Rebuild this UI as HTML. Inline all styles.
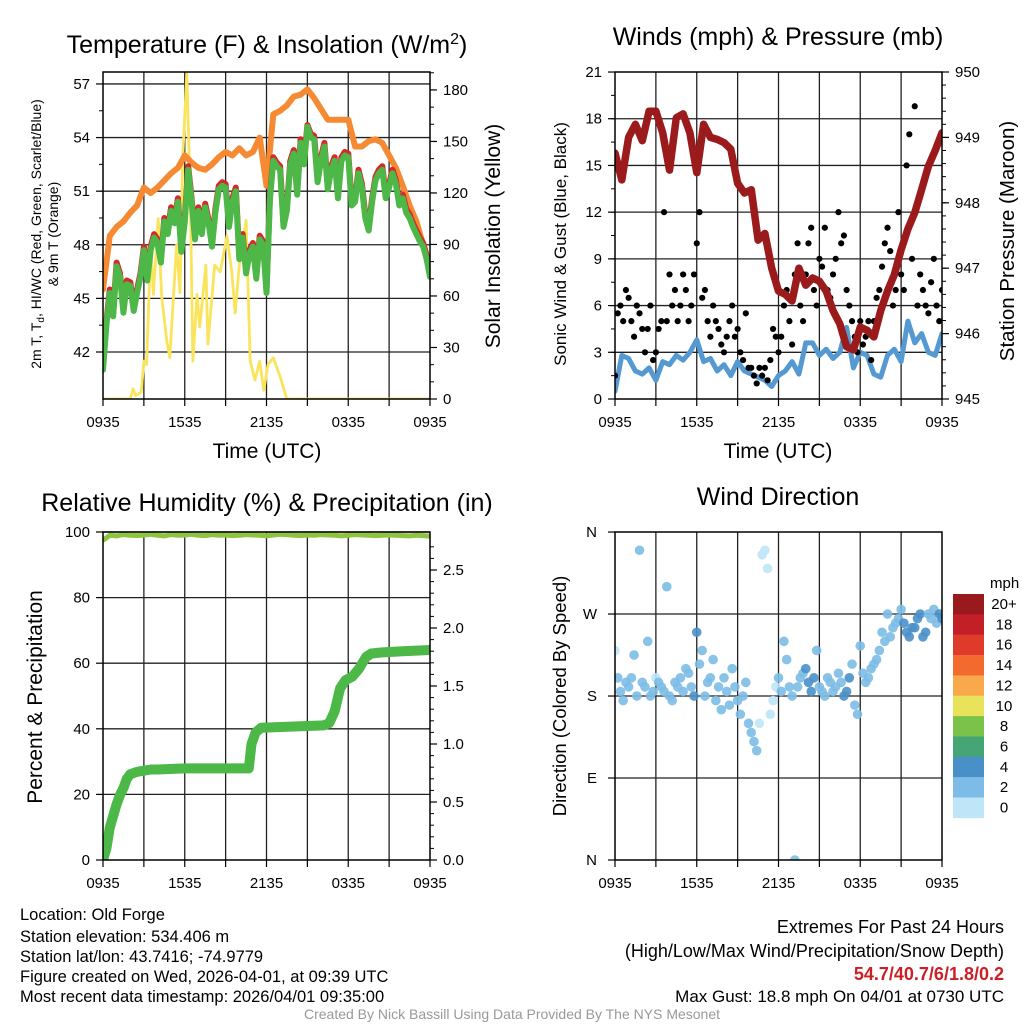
<!DOCTYPE html>
<html><head><meta charset="utf-8"><title>Mesonet Meteogram</title>
<style>
html,body{margin:0;padding:0;background:#fff;}
svg{display:block;font-family:"Liberation Sans",Arial,sans-serif;}
</style></head>
<body>
<svg id="fig" width="1024" height="1024" viewBox="0 0 1024 1024" xmlns="http://www.w3.org/2000/svg">
<rect x="0" y="0" width="1024" height="1024" fill="#fff"/>
<defs>
<clipPath id="c1"><rect x="103" y="72" width="327" height="327"/></clipPath>
<clipPath id="c2"><rect x="615" y="72" width="327" height="327"/></clipPath>
<clipPath id="c3"><rect x="103" y="532" width="327" height="328"/></clipPath>
<clipPath id="c4"><rect x="615" y="532" width="327" height="328"/></clipPath>
</defs>
<!-- titles -->
<text x="267" y="53" font-size="25" text-anchor="middle">Temperature (F) &amp; Insolation (W/m<tspan dy="-9" font-size="16">2</tspan><tspan dy="9">)</tspan></text>
<text x="778" y="45" font-size="25" text-anchor="middle">Winds (mph) &amp; Pressure (mb)</text>
<text x="267" y="511" font-size="25" text-anchor="middle">Relative Humidity (%) &amp; Precipitation (in)</text>
<text x="778" y="505" font-size="25" text-anchor="middle">Wind Direction</text>
<!-- axis titles -->
<text x="267" y="458" font-size="21" text-anchor="middle">Time (UTC)</text>
<text x="778" y="458" font-size="21" text-anchor="middle">Time (UTC)</text>
<text transform="translate(41,234) rotate(-90)" font-size="14" text-anchor="middle">2m T, T<tspan font-size="10" dy="3">d</tspan><tspan dy="-3">, HI/WC (Red, Green, Scarlet/Blue)</tspan></text>
<text transform="translate(58,234) rotate(-90)" font-size="14" text-anchor="middle">&amp; 9m T (Orange)</text>
<text transform="translate(500,236) rotate(-90)" font-size="21" text-anchor="middle">Solar Insolation (Yellow)</text>
<text transform="translate(566,244) rotate(-90)" font-size="17" text-anchor="middle">Sonic Wind &amp; Gust (Blue, Black)</text>
<text transform="translate(1014,241) rotate(-90)" font-size="20.5" text-anchor="middle">Station Pressure (Maroon)</text>
<text transform="translate(42,697) rotate(-90)" font-size="21" text-anchor="middle">Percent &amp; Precipitation</text>
<text transform="translate(566,696) rotate(-90)" font-size="18.5" text-anchor="middle">Direction (Colored By Speed)</text>
<!-- footer -->
<g font-size="16.5">
<text x="20" y="920">Location: Old Forge</text>
<text x="20" y="942">Station elevation: 534.406 m</text>
<text x="20" y="962">Station lat/lon: 43.7416; -74.9779</text>
<text x="20" y="982">Figure created on Wed, 2026-04-01, at 09:39 UTC</text>
<text x="20" y="1002">Most recent data timestamp: 2026/04/01 09:35:00</text>
</g>
<g font-size="18" text-anchor="end">
<text x="1004" y="933">Extremes For Past 24 Hours</text>
<text x="1004" y="957">(High/Low/Max Wind/Precipitation/Snow Depth)</text>
<text x="1004" y="980" fill="#cc1f26" font-weight="bold">54.7/40.7/6/1.8/0.2</text>
<text x="1004" y="1002" font-size="17">Max Gust: 18.8 mph On 04/01 at 0730 UTC</text>
</g>
<text x="512" y="1019" font-size="14" fill="#999" text-anchor="middle">Created By Nick Bassill Using Data Provided By The NYS Mesonet</text>
<g id="layer"></g>
</svg>
<script>
// ---------- data ----------
const xTickLabels = ["0935","1535","2135","0335","0935"];
const tempLeftTicks = [42,45,48,51,54,57];
const insolTicks = [0,30,60,90,120,150,180];
const windTicks = [0,3,6,9,12,15,18,21];
const presTicks = [945,946,947,948,949,950];
const rhTicks = [0,20,40,60,80,100];
const precipTicks = [0.0,0.5,1.0,1.5,2.0,2.5];
const dirTickLabels = ["N","E","S","W","N"];
const dirTickValues = [0,90,180,270,360];
const speedLabels = ["20+","18","16","14","12","10","8","6","4","2","0"];
const speedColors = ["#99191c","#c21f26","#e03a2b","#f26a2e","#f9a94b","#e8e35a","#7bc24a","#46a574","#4a90c8","#7cbce6","#bfe6f8"];

const dewGreen = [41.0,43.5,45.3,44.0,46.8,46.2,44.2,45.8,45.7,44.3,45.3,46.2,47.7,46.0,47.7,48.4,48.1,47.0,49.3,48.6,49.9,49.2,50.4,47.6,49.3,52.2,50.4,48.3,49.9,48.6,50.1,49.2,47.9,49.8,51.1,51.3,51.2,49.0,50.4,51.0,47.2,48.4,46.4,47.5,47.9,46.1,48.3,48.0,45.3,50.5,52.7,52.4,52.2,49.0,49.9,52.5,53.1,50.8,53.7,52.5,54.6,54.0,53.9,51.5,52.7,53.5,51.1,52.2,52.7,50.6,52.7,53.0,52.9,50.2,50.4,52.0,51.2,49.5,48.8,50.4,51.6,52.0,52.2,50.6,51.2,52.0,51.4,50.2,50.6,49.8,49.5,49.0,48.6,48.2,47.9,47.2,46.2];
const temp2mRed = [41.2,43.7,45.5,44.2,47.0,46.4,44.4,46.0,45.9,44.5,45.5,46.4,47.9,46.2,47.9,48.6,48.3,47.2,49.5,48.8,50.1,49.4,50.6,47.8,49.5,52.4,50.6,48.5,50.1,48.8,50.3,49.4,48.1,50.0,51.3,51.5,51.4,49.2,50.6,51.2,47.4,48.6,46.6,47.7,48.1,46.3,48.5,48.2,45.5,50.7,52.9,52.6,52.4,49.2,50.1,52.7,53.3,51.0,53.9,52.7,54.7,54.2,54.1,51.7,52.9,53.7,51.3,52.4,52.9,50.8,52.9,53.2,53.1,50.4,50.6,52.2,51.4,49.7,49.0,50.6,51.8,52.2,52.4,50.8,51.4,52.2,51.6,50.4,50.8,50.0,49.7,49.2,48.8,48.4,48.1,47.4,46.4];
const temp9mOrange = [45.5,48.5,49.0,49.3,49.8,50.2,51.2,50.9,51.2,51.6,52.0,52.3,53.0,52.6,52.3,52.2,52.5,52.9,53.2,53.0,53.4,53.0,53.2,54.0,51.3,55.3,55.5,55.8,56.3,56.4,56.7,56.2,55.6,55.0,55.0,55.0,55.0,53.5,53.5,53.8,53.9,53.7,53.0,52.3,51.3,50.2,49.3,48.0,46.8];
const insolHours = [0,2.0,2.2,2.4,2.8,3.0,3.2,3.5,3.7,4.05,4.3,4.7,4.9,5.4,5.65,5.85,6.15,6.4,6.6,6.9,7.1,7.55,7.7,8.2,8.6,9.1,9.45,9.7,10.0,10.5,10.8,11.15,11.5,11.8,12.1,12.5,13.0,13.5,24];
const insolValues = [0,0,6,2,4,22,20,90,61,105,60,33,24,90,62,140,190,120,22,61,42,78,32,78,74,95,74,50,78,104,22,11,22,5,20,24,13,0,0];

const pressure = [948.76,948.35,949.0,949.2,948.95,949.4,949.4,949.07,948.5,949.3,949.36,949.07,948.46,949.2,949.0,948.97,948.92,948.82,948.3,948.15,948.2,947.43,947.53,947.0,946.65,946.6,946.5,947.0,946.74,946.85,946.8,946.65,946.35,946.15,945.8,945.75,946.1,946.05,945.95,946.35,946.65,946.9,947.28,947.6,947.85,948.2,948.56,948.8,949.07];
const windSpeed = [0.5,2.8,2.6,1.8,1.6,2.0,1.2,2.4,2.2,2.8,2.5,3.0,3.8,2.4,2.6,1.8,2.2,1.5,2.4,1.8,1.6,1.4,1.2,0.8,1.5,1.8,2.4,1.6,3.6,3.6,2.8,3.2,2.6,3.0,4.6,2.0,3.0,2.8,1.6,1.4,2.8,3.2,2.4,5.0,3.6,4.2,3.0,2.8,4.2];
const windGust = [1.5,5.5,6,5,7,6.5,5,4,6,5.5, 4.5,3,4.5,6,2.5,3,4.5,5,12,5, 8,6,7,5,6,8,7,5,6,8, 10,12,6.5,7,5,4,6,5,4.5,3.5, 3,4,5,6,4,4.5,3,2.5,5.5,2, 2,1.5,1,2,1.5,2,1.2,2.5,4.5,4, 3,4,6,7,5,3.5,8,10,6,5, 8,10,11,7,6,9,8.5,11,7,6.5, 8,9,12,10,10.5,7,6,5,4,3, 5,3.5,4,5,2.5,5,6.5,7,8.5,10, 11,9.5,6,7,12,8,7,15,17,9, 18.8,6,8,7,6,5.5,7.5,9,6,5,7];

const relHum = [97.5,99.0,98.8,99.2,99.0,98.9,99.1,99.3,99.0,98.8,99.2,99.0,99.1,99.3,99.0,98.9,99.2,99.0,99.1,98.9,99.0,99.2,99.1,99.0,98.8,99.1,99.3,99.2,99.0,98.9,99.1,99.0,99.2,99.1,99.0,98.8,99.0,99.2,99.1,99.0,98.9,99.0,99.1,99.0,98.9,98.8,99.0,98.9,98.7];
const precipHours = [0,0.25,0.5,0.75,1,1.25,1.5,1.75,2,2.5,3,3.5,4,6,9,10.7,10.9,11.2,11.6,16.2,16.6,17,17.4,17.8,18.3,18.8,19.3,19.7,20.5,22,24];
const precipValues = [0,0.1,0.28,0.38,0.48,0.56,0.62,0.7,0.74,0.76,0.77,0.78,0.78,0.79,0.79,0.79,1.0,1.1,1.14,1.16,1.18,1.28,1.48,1.55,1.58,1.65,1.75,1.78,1.79,1.8,1.81];

const windDir = [230,200,185,175,195,190,200,225,180,340, 195,190,240,180,185,200,195,190,185,300, 180,175,195,190,200,185,210,205,190,180, 250,215,230,180,195,200,220,175,190,165, 200,185,170,210,190,175,160,180,195,150, 140,130,120,150,335,340,320,160,175,190, 200,185,240,220,190,180,0,190,200,205, 210,195,185,200,230,190,185,180,200,195, 185,190,205,195,180,185,200,215,170,160, 235,205,195,200,210,215,220,230,250,240, 270,245,255,260,265,275,260,250,245,255, 255,265,270,245,250,270,265,275,260,270,265];

// ---------- scales ----------
const NS="http://www.w3.org/2000/svg";
const layer=document.getElementById('layer');
function mk(tag,attrs,parent){const e=document.createElementNS(NS,tag);for(const k in attrs)e.setAttribute(k,attrs[k]);(parent||layer).appendChild(e);return e;}
function xL(t){return 103+t/24*327;}
function xR(t){return 615+t/24*327;}
function yTemp(v){return 352-(v-42)*17.87;}
function yIns(v){return 399-v*1.717;}
function yWind(v){return 399-v*15.57;}
function yPres(v){return 399-(v-945)*65.4;}
function yRH(v){return 860-v*3.28;}
function yPrec(v){return 860-v*116;}
function yDir(d){return 860-d*0.911;}
function hrs(n,i){return i*24/(n-1);}
function interp(arr,t){const f=t/24*(arr.length-1);const i=Math.min(Math.floor(f),arr.length-2);const r=f-i;return arr[i]*(1-r)+arr[i+1]*r;}

function pathFrom(ts,vs,xf,yf){let d='';for(let i=0;i<vs.length;i++){d+=(i?'L':'M')+xf(ts[i]).toFixed(1)+','+yf(vs[i]).toFixed(1);}return d;}
function evenTimes(n){const a=[];for(let i=0;i<n;i++)a.push(hrs(n,i));return a;}

// ---------- generic panel frame ----------
function frame(x0,y0,w,h,name){
  const g=mk('g',{});
  
  
  for(let k=1;k<8;k++){
    const x=x0+k*w/8;
    const l=mk('line',{x1:x,y1:y0,x2:x,y2:y0+h,stroke:'#222','stroke-width':1.3},g);
    
    
  }
  for(let k=0;k<=8;k++){
    const x=x0+k*w/8;
    const tk=mk('line',{x1:x,y1:y0+h,x2:x,y2:y0+h+7,stroke:'#000','stroke-width':1.2},g);
    
    
    if(k%2===0){
      const tx=mk('text',{x:x,y:y0+h+28,'font-size':15,'text-anchor':'middle'},g);
      tx.textContent=xTickLabels[k/2];
      
      
    }
  }
  return g;
}
function hgrid(g,ys,x0,w,name){
  ys.forEach(y=>{
    const l=mk('line',{x1:x0,y1:y,x2:x0+w,y2:y,stroke:'#222','stroke-width':1.3},g);
    
    
  });
}
function leftAxis(g,vals,yf,x0,fmt,name,minorStep){
  vals.forEach(v=>{
    const y=yf(v);
    const tk=mk('line',{x1:x0-7,y1:y,x2:x0,y2:y,stroke:'#000','stroke-width':1.2},g);
    
    
    const tx=mk('text',{x:x0-13,y:y+5,'font-size':15,'text-anchor':'end'},g);
    tx.textContent=fmt(v);
    
    
  });
  if(minorStep){
    for(let v=vals[0]+minorStep;v<vals[vals.length-1];v+=minorStep){
      const y=yf(v);
      const tk=mk('line',{x1:x0-4,y1:y,x2:x0,y2:y,stroke:'#000','stroke-width':1},g);
      
      
    }
  }
}
function rightAxis(g,vals,yf,x1,fmt,name,minorStep,lo,hi){
  vals.forEach(v=>{
    const y=yf(v);
    const tk=mk('line',{x1:x1,y1:y,x2:x1+7,y2:y,stroke:'#000','stroke-width':1.2},g);
    
    
    const tx=mk('text',{x:x1+13,y:y+5,'font-size':15,'text-anchor':'start'},g);
    tx.textContent=fmt(v);
    
    
  });
  if(minorStep){
    for(let v=lo;v<=hi+1e-9;v+=minorStep){
      const y=yf(v);
      const tk=mk('line',{x1:x1,y1:y,x2:x1+4,y2:y,stroke:'#000','stroke-width':1},g);
      
      
    }
  }
}
function border(g,x0,y0,w,h,name){
  const r=mk('rect',{x:x0,y:y0,width:w,height:h,fill:'none',stroke:'#000','stroke-width':1.5},g);
  
  
}
function line(g,d,color,width,clip,name){
  const p=mk('path',{d:d,fill:'none',stroke:color,'stroke-width':width,'stroke-linejoin':'round','stroke-linecap':'round','clip-path':'url(#'+clip+')'},g);
  
  
  return p;
}

// ---------- panel 1: temperature ----------
const g1=frame(103,72,327,327,'temp');
hgrid(g1,tempLeftTicks.map(yTemp),103,327,'temp');
leftAxis(g1,tempLeftTicks,yTemp,103,v=>String(v),'temp-y',1.5);
rightAxis(g1,insolTicks,yIns,430,v=>String(v),'insolation-y',10,0,190);
line(g1,pathFrom(insolHours,insolValues,xL,yIns),'#f9e45b',2.8,'c1','insolation-line-yellow');
line(g1,pathFrom(evenTimes(temp9mOrange.length),temp9mOrange,xL,yTemp),'#f58a33',6,'c1','temp-9m-line-orange');
line(g1,pathFrom(evenTimes(temp2mRed.length),temp2mRed,xL,yTemp),'#d62a2a',6,'c1','temp-2m-line-red');
line(g1,pathFrom(evenTimes(dewGreen.length),dewGreen,xL,yTemp),'#4db748',6,'c1','dewpoint-line-green');
border(g1,103,72,327,327,'temp');

// ---------- panel 2: winds ----------
const g2=frame(615,72,327,327,'winds');
hgrid(g2,windTicks.slice(1,-1).map(yWind),615,327,'winds');
leftAxis(g2,windTicks,yWind,615,v=>String(v),'wind-y',1.5);
rightAxis(g2,presTicks,yPres,942,v=>String(v),'pressure-y',0.2,945,950);
line(g2,pathFrom(evenTimes(windSpeed.length),windSpeed,xR,yWind),'#5499d1',5,'c2','wind-speed-line-blue');
windGust.forEach((v,i)=>{
  const c=mk('circle',{cx:xR(hrs(windGust.length,i)),cy:yWind(v),r:3.1,fill:'#000','clip-path':'url(#c2)'},g2);
  
  
});
line(g2,pathFrom(evenTimes(pressure.length),pressure,xR,yPres),'#9b1b1d',7.5,'c2','pressure-line-maroon');
border(g2,615,72,327,327,'winds');

// ---------- panel 3: humidity & precip ----------
const g3=frame(103,532,327,328,'humidity');
hgrid(g3,rhTicks.slice(1).map(yRH),103,327,'humidity');
leftAxis(g3,rhTicks,yRH,103,v=>String(v),'rh-y',0);
rightAxis(g3,precipTicks,yPrec,430,v=>v.toFixed(1),'precip-y',0.1,0,2.75);
line(g3,pathFrom(evenTimes(relHum.length),relHum,xL,yRH),'#8dc540',5,'c3','humidity-line');
line(g3,pathFrom(precipHours,precipValues,xL,yPrec),'#4cb847',10,'c3','precipitation-line');
border(g3,103,532,327,328,'humidity');

// ---------- panel 4: wind direction ----------
const g4=frame(615,532,327,328,'direction');
hgrid(g4,dirTickValues.slice(1,-1).map(yDir),615,327,'direction');
dirTickValues.forEach((d,i)=>{
  const y=yDir(d);
  const tk=mk('line',{x1:608,y1:y,x2:615,y2:y,stroke:'#000','stroke-width':1.2},g4);
  
  
  const tx=mk('text',{x:597,y:y+5,'font-size':15,'text-anchor':'end'},g4);
  tx.textContent=dirTickLabels[i];
  
  
});
function speedColor(s){let b=Math.floor(s/2);if(b>10)b=10;return speedColors[10-b];}
windDir.forEach((d,i)=>{
  const t=hrs(windDir.length,i);
  const c=mk('circle',{cx:xR(t),cy:yDir(d),r:4.8,fill:speedColor(interp(windSpeed,t)+0.6),'fill-opacity':0.9,'clip-path':'url(#c4)'},g4);
  
  
});
border(g4,615,532,327,328,'direction');

// colorbar
const cb=mk('g',{});


const cbt=mk('text',{x:990,y:588,'font-size':15},cb);
cbt.textContent='mph';


speedLabels.forEach((lab,i)=>{
  const y=594+i*20.35;
  const r=mk('rect',{x:953,y:y,width:31,height:20.6,fill:speedColors[i]},cb);
  
  
  const tx=mk('text',{x:1004,y:y+15,'font-size':15,'text-anchor':'middle'},cb);
  tx.textContent=lab;
  
  
});
</script>
</body></html>
